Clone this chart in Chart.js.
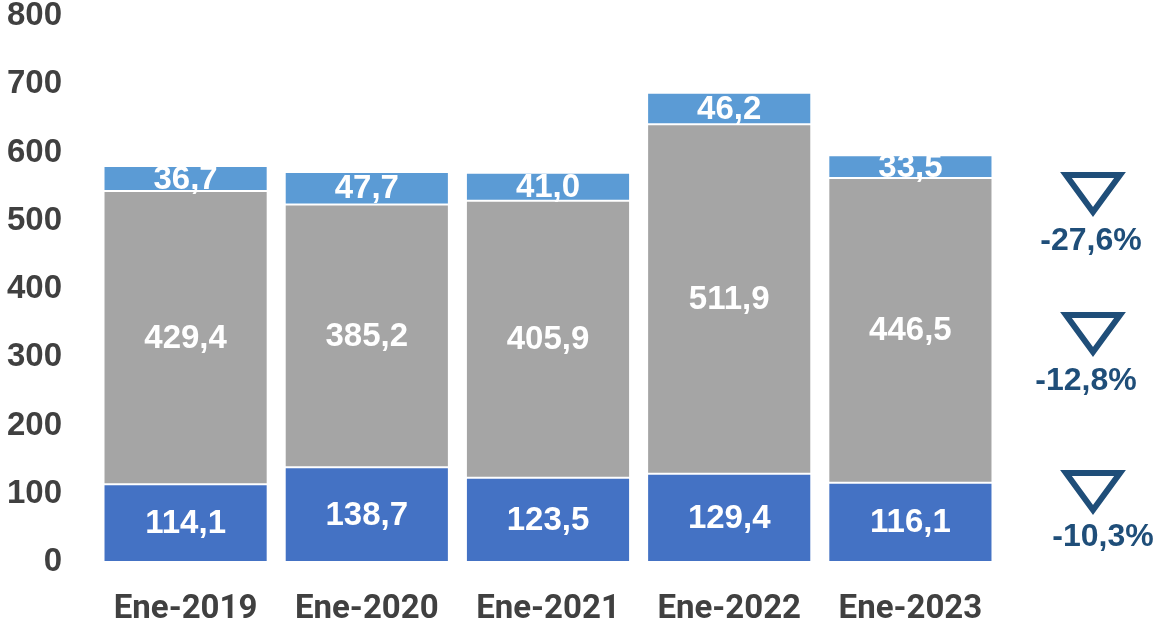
<!DOCTYPE html>
<html>
<head>
<meta charset="utf-8">
<script src="https://cdn.jsdelivr.net/npm/chart.js@4.4.0/dist/chart.umd.min.js"></script>
<style>
  html, body { margin: 0; padding: 0; background: #ffffff; }
  #wrap { width: 1157px; height: 624px; position: relative; }
</style>
</head>
<body>
<div id="wrap"><canvas id="c" width="1157" height="624"></canvas></div>
<script>
// ---- data ----
const categories = ['Ene-2019', 'Ene-2020', 'Ene-2021', 'Ene-2022', 'Ene-2023'];
const seriesBottom = [114.1, 138.7, 123.5, 129.4, 116.1];
const seriesMiddle = [429.4, 385.2, 405.9, 511.9, 446.5];
const seriesTop    = [36.7, 47.7, 41.0, 46.2, 33.5];
const yTicks = [0, 100, 200, 300, 400, 500, 600, 700, 800];
const changeLabels = ['-27,6%', '-12,8%', '-10,3%']; // top, middle, bottom series

const fmt = v => v.toFixed(1).replace('.', ',');

const labelPlugin = {
  id: 'segLabels',
  afterDatasetsDraw(chart) {
    const ctx = chart.ctx;
    ctx.save();
    ctx.fillStyle = '#ffffff';
    ctx.font = 'bold 33px "Liberation Sans", Arial, sans-serif';
    ctx.textAlign = 'center';
    ctx.textBaseline = 'middle';
    chart.data.datasets.forEach((ds, di) => {
      const meta = chart.getDatasetMeta(di);
      meta.data.forEach((el, i) => {
        const yc = (el.y + el.base) / 2;
        ctx.fillText(fmt(ds.data[i]), el.x, yc + 1);
      });
    });
    ctx.restore();
  }
};

const annotPlugin = {
  id: 'annots',
  afterDraw(chart) {
    const ctx = chart.ctx;
    const r = chart.chartArea.right;
    // layout offsets (pixels) relative to chart area right edge
    const items = [
      { tri: [r + 92, 175], txt: [r + 90, 241] },
      { tri: [r + 92, 315], txt: [r + 85, 381] },
      { tri: [r + 92, 473], txt: [r + 102, 537] }
    ];
    ctx.save();
    ctx.strokeStyle = '#1F4E79';
    ctx.fillStyle = '#1F4E79';
    ctx.lineWidth = 6;
    ctx.lineJoin = 'miter';
    ctx.font = 'bold 32px "Liberation Sans", Arial, sans-serif';
    ctx.textAlign = 'center';
    ctx.textBaseline = 'middle';
    items.forEach((it, k) => {
      const [cx, ty] = it.tri;
      ctx.beginPath();
      ctx.moveTo(cx - 27, ty);
      ctx.lineTo(cx + 27, ty);
      ctx.lineTo(cx, ty + 37);
      ctx.closePath();
      ctx.stroke();
      ctx.fillText(changeLabels[k], it.txt[0], it.txt[1]);
    });
    ctx.restore();
  }
};

const barCommon = {
  borderColor: 'rgba(255,255,255,0.3)',
  borderWidth: 1,
  borderSkipped: false,
  categoryPercentage: 1.0,
  barPercentage: 0.906
};

new Chart(document.getElementById('c'), {
  type: 'bar',
  data: {
    labels: categories,
    datasets: [
      Object.assign({ label: 'Serie 1', data: seriesBottom, backgroundColor: '#4472C4' }, barCommon),
      Object.assign({ label: 'Serie 2', data: seriesMiddle, backgroundColor: '#A5A5A5' }, barCommon),
      Object.assign({ label: 'Serie 3', data: seriesTop, backgroundColor: '#5B9BD5' }, barCommon)
    ]
  },
  options: {
    responsive: false,
    animation: false,
    layout: { padding: { top: 0, right: 156, left: 0, bottom: 0 } },
    plugins: { legend: { display: false }, tooltip: { enabled: false } },
    scales: {
      x: {
        stacked: true,
        grid: { display: false, drawTicks: false },
        border: { display: false },
        ticks: {
          color: '#404040',
          padding: 28,
          font: { family: 'Roboto, "Liberation Sans", sans-serif', size: 33, weight: 'bold' }
        },
        afterFit(s) { s.height = 62; s.paddingLeft = 0; s.paddingRight = 0; }
      },
      y: {
        stacked: true,
        min: 0,
        max: 800,
        afterBuildTicks(s) { s.ticks = yTicks.map(v => ({ value: v })); },
        grid: { display: false, drawTicks: false },
        border: { display: false },
        ticks: {
          color: '#404040',
          padding: 33,
          font: { family: '"Liberation Sans", Arial, sans-serif', size: 33, weight: 'bold' }
        },
        afterFit(s) { s.width = 95; s.paddingTop = 16; s.paddingBottom = 0; }
      }
    }
  },
  plugins: [labelPlugin, annotPlugin]
});
</script>
</body>
</html>
